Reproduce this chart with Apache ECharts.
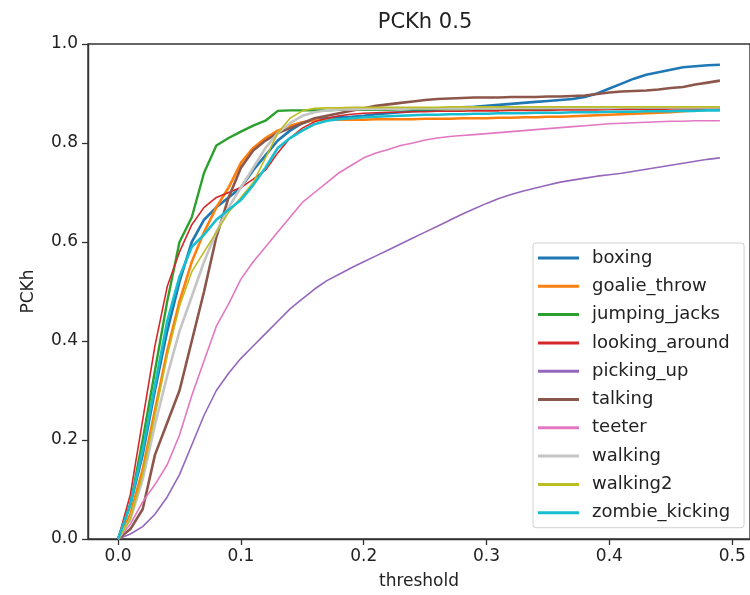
<!DOCTYPE html>
<html>
<head>
<meta charset="utf-8">
<script src="https://cdn.jsdelivr.net/npm/echarts@6/dist/echarts.min.js"></script>
<style>
html,body{margin:0;padding:0;background:#fff;}
#chart{width:750px;height:595px;}
</style>
</head>
<body>
<div id="chart"></div>
<script>
const thresholds = [0.00,0.01,0.02,0.03,0.04,0.05,0.06,0.07,0.08,0.09,0.10,0.11,0.12,0.13,0.14,0.15,0.16,0.17,0.18,0.19,0.20,0.21,0.22,0.23,0.24,0.25,0.26,0.27,0.28,0.29,0.30,0.31,0.32,0.33,0.34,0.35,0.36,0.37,0.38,0.39,0.40,0.41,0.42,0.43,0.44,0.45,0.46,0.47,0.48,0.49];
const xTickValues = [0.0, 0.1, 0.2, 0.3, 0.4, 0.5];
const yTickValues = [0.0, 0.2, 0.4, 0.6, 0.8, 1.0];

const boxing = [0,0.07,0.17,0.30,0.42,0.52,0.60,0.645,0.67,0.69,0.71,0.745,0.775,0.805,0.825,0.84,0.848,0.85,0.852,0.853,0.855,0.858,0.86,0.862,0.864,0.866,0.868,0.870,0.872,0.873,0.875,0.877,0.879,0.881,0.883,0.885,0.887,0.889,0.893,0.90,0.91,0.92,0.93,0.938,0.943,0.948,0.953,0.955,0.957,0.958];
const goalie_throw = [0,0.05,0.14,0.26,0.38,0.48,0.56,0.62,0.67,0.71,0.76,0.79,0.81,0.825,0.835,0.842,0.846,0.847,0.847,0.847,0.847,0.848,0.848,0.848,0.848,0.849,0.849,0.849,0.85,0.85,0.85,0.851,0.851,0.852,0.852,0.853,0.853,0.854,0.855,0.856,0.857,0.858,0.859,0.86,0.861,0.862,0.864,0.866,0.868,0.869];
const jumping_jacks = [0,0.07,0.20,0.34,0.48,0.60,0.65,0.74,0.795,0.81,0.823,0.835,0.845,0.865,0.866,0.866,0.866,0.866,0.867,0.867,0.867,0.867,0.867,0.868,0.868,0.868,0.868,0.868,0.868,0.868,0.869,0.869,0.869,0.869,0.869,0.869,0.869,0.87,0.87,0.87,0.87,0.87,0.87,0.87,0.87,0.871,0.871,0.871,0.871,0.871];
const looking_around = [0,0.09,0.24,0.39,0.51,0.58,0.635,0.67,0.69,0.70,0.71,0.727,0.745,0.78,0.81,0.83,0.843,0.85,0.855,0.858,0.86,0.861,0.862,0.862,0.863,0.863,0.864,0.864,0.864,0.865,0.865,0.865,0.866,0.866,0.866,0.866,0.867,0.867,0.867,0.867,0.868,0.868,0.868,0.868,0.868,0.869,0.869,0.869,0.869,0.869];
const picking_up = [0,0.01,0.025,0.05,0.085,0.13,0.19,0.25,0.30,0.335,0.365,0.39,0.415,0.44,0.465,0.485,0.505,0.522,0.535,0.548,0.56,0.572,0.584,0.596,0.608,0.62,0.632,0.644,0.656,0.667,0.678,0.688,0.696,0.703,0.709,0.715,0.721,0.725,0.729,0.733,0.736,0.739,0.743,0.747,0.751,0.755,0.759,0.763,0.767,0.770];
const talking = [0,0.02,0.06,0.17,0.235,0.30,0.40,0.50,0.61,0.69,0.75,0.785,0.805,0.82,0.83,0.84,0.85,0.855,0.86,0.865,0.87,0.875,0.878,0.881,0.884,0.887,0.889,0.89,0.891,0.892,0.892,0.892,0.893,0.893,0.893,0.894,0.894,0.895,0.896,0.899,0.902,0.904,0.905,0.906,0.908,0.911,0.913,0.918,0.922,0.926];
const teeter = [0,0.03,0.075,0.11,0.15,0.21,0.29,0.36,0.43,0.475,0.525,0.56,0.59,0.62,0.65,0.68,0.70,0.72,0.74,0.755,0.77,0.78,0.787,0.795,0.80,0.806,0.81,0.813,0.815,0.817,0.819,0.821,0.823,0.825,0.827,0.829,0.831,0.833,0.835,0.837,0.839,0.84,0.841,0.842,0.843,0.844,0.844,0.845,0.845,0.845];
const walking = [0,0.04,0.12,0.23,0.33,0.42,0.49,0.56,0.62,0.67,0.71,0.75,0.79,0.82,0.84,0.855,0.862,0.866,0.868,0.868,0.869,0.869,0.869,0.869,0.87,0.87,0.87,0.87,0.87,0.87,0.87,0.87,0.871,0.871,0.871,0.871,0.871,0.871,0.871,0.871,0.871,0.872,0.872,0.872,0.872,0.872,0.872,0.872,0.872,0.872];
const walking2 = [0,0.04,0.13,0.25,0.37,0.47,0.54,0.58,0.62,0.66,0.69,0.72,0.77,0.82,0.85,0.865,0.87,0.871,0.871,0.872,0.872,0.872,0.872,0.872,0.872,0.872,0.872,0.873,0.873,0.873,0.873,0.873,0.873,0.873,0.873,0.873,0.873,0.873,0.873,0.873,0.873,0.873,0.873,0.873,0.873,0.873,0.873,0.873,0.873,0.873];
const zombie_kicking = [0,0.07,0.18,0.31,0.44,0.53,0.59,0.615,0.645,0.665,0.685,0.715,0.75,0.79,0.81,0.825,0.838,0.845,0.848,0.85,0.852,0.853,0.854,0.855,0.856,0.857,0.857,0.858,0.858,0.859,0.859,0.86,0.86,0.86,0.861,0.861,0.861,0.862,0.862,0.862,0.863,0.863,0.863,0.864,0.864,0.864,0.865,0.865,0.866,0.866];

const seriesNames = ['boxing','goalie_throw','jumping_jacks','looking_around','picking_up','talking','teeter','walking','walking2','zombie_kicking'];
const seriesValues = [boxing, goalie_throw, jumping_jacks, looking_around, picking_up, talking, teeter, walking, walking2, zombie_kicking];
const colors = ['#1f77b4','#ff7f0e','#2ca02c','#d62728','#9467bd','#8c564b','#e377c2','#c4c4c4','#bcbd22','#17becf'];
const widths = [2.6,2.6,2.4,1.6,1.6,2.6,1.6,2.6,1.6,2.6];

const FONT = 'DejaVu Sans';
const chart = echarts.init(document.getElementById('chart'), null, {renderer:'canvas'});

const series = seriesNames.map((name, i) => ({
  name: name,
  type: 'line',
  symbol: 'none',
  showSymbol: false,
  animation: false,
  data: thresholds.map((t, k) => [t, seriesValues[i][k]]),
  lineStyle: { color: colors[i], width: widths[i] },
  itemStyle: { color: colors[i] },
  z: 2 + i * 0.01
}));

chart.setOption({
  animation: false,
  backgroundColor: '#ffffff',
  title: {
    text: 'PCKh 0.5',
    left: 420, top: 7, textAlign: 'center',
    textStyle: { fontFamily: FONT, fontSize: 21, fontWeight: 'normal', color: '#222' }
  },
  grid: {
    left: 88, top: 44, right: -4, bottom: 55,
    show: true, borderColor: '#333', borderWidth: 1.4, backgroundColor: 'transparent'
  },
  legend: {
    orient: 'vertical',
    left: 533, top: 243,
    padding: [5, 14, 5, 5],
    icon: 'rect',
    itemWidth: 41, itemHeight: 3, itemGap: 8.3,
    backgroundColor: 'rgba(255,255,255,0.85)',
    borderColor: '#d0d0d0', borderWidth: 1, borderRadius: 3,
    textStyle: { fontFamily: FONT, fontSize: 18, lineHeight: 20, height: 20, color: '#222', padding: [0, 0, 0, 8] },
    data: seriesNames.map((n, i) => ({ name: n, itemStyle: { color: colors[i] } }))
  },
  xAxis: {
    type: 'value',
    min: -0.0245, max: 0.5145,
    name: 'threshold', nameLocation: 'middle', nameGap: 34,
    nameTextStyle: { fontFamily: FONT, fontSize: 17, color: '#222' },
    axisLine: { show: true, onZero: false, lineStyle: { color: '#333', width: 1.4 } },
    axisTick: { show: true, customValues: xTickValues, length: 6, lineStyle: { color: '#333', width: 1.3 } },
    axisLabel: { customValues: xTickValues, margin: 9, fontFamily: FONT, fontSize: 17, color: '#222',
      formatter: v => v.toFixed(1) },
    splitLine: { show: false }
  },
  yAxis: {
    type: 'value',
    min: 0, max: 1, interval: 0.2,
    name: 'PCKh', nameLocation: 'middle', nameGap: 51, nameRotate: 90,
    nameTextStyle: { fontFamily: FONT, fontSize: 17, color: '#222' },
    axisLine: { show: true, onZero: false, lineStyle: { color: '#333', width: 1.4 } },
    axisTick: { show: true, length: 6, lineStyle: { color: '#333', width: 1.3 } },
    axisLabel: { margin: 10, fontFamily: FONT, fontSize: 17, color: '#222',
      formatter: v => v.toFixed(1) },
    splitLine: { show: false }
  },
  series: series
});
</script>
</body>
</html>
